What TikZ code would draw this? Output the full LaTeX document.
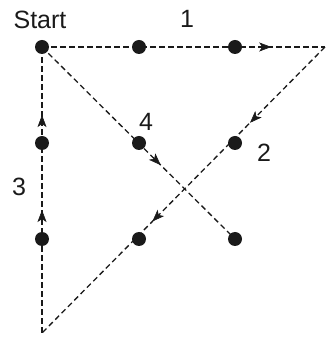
\documentclass[tikz,border=0pt]{standalone}
\usepackage{fontspec}
\setmainfont{Liberation Sans}
\usetikzlibrary{arrows.meta,decorations.markings}
\definecolor{ink}{HTML}{1A1A1A}
\tikzset{
  dot/.style={circle,fill=ink,inner sep=0pt,minimum size=14pt},
  lbl/.style={text=ink,inner sep=0pt,font=\fontsize{25}{28}\selectfont},
  route/.style={draw=ink,line width=1.3pt,dash pattern=on 5.5pt off 3.5pt},
  tipat/.style={postaction={decorate,decoration={markings,
      mark=at position #1 with {\arrow[solid,line width=0.6pt]{Stealth[length=12pt,width=9pt,inset=3pt]}}}}}
}
\begin{document}
\begin{tikzpicture}[x=1pt,y=1pt]
\useasboundingbox (0,0) rectangle (326,337);
% dots
\node[dot] (s)  at (42,290) {};
\node[dot] (a2) at (139,290) {};
\node[dot] (a3) at (235,290) {};
\node[dot] (b1) at (42,194) {};
\node[dot] (b2) at (139,194) {};
\node[dot] (b3) at (235,194) {};
\node[dot] (c1) at (42,98) {};
\node[dot] (c2) at (139,98) {};
\node[dot] (c3) at (235,98) {};
\coordinate (tr) at (325,290);
\coordinate (bl) at (42,4);
% routes
\draw[route,tipat=0.81] (s.center) -- (tr);
\draw[route,tipat=0.265,tipat=0.61] (tr) -- (bl);
\draw[route,tipat=0.43,tipat=0.762] (bl) -- (s.center);
\draw[route,tipat=0.615] (s.center) -- (c3.center);
% labels
\node[lbl] (tS) at (40,317) {Start};
\node[lbl] (t1) at (187,318) {1};
\node[lbl] (t4) at (146,215) {4};
\node[lbl] (t2) at (264,184) {2};
\node[lbl] (t3) at (19,150) {3};
\end{tikzpicture}
\end{document}
